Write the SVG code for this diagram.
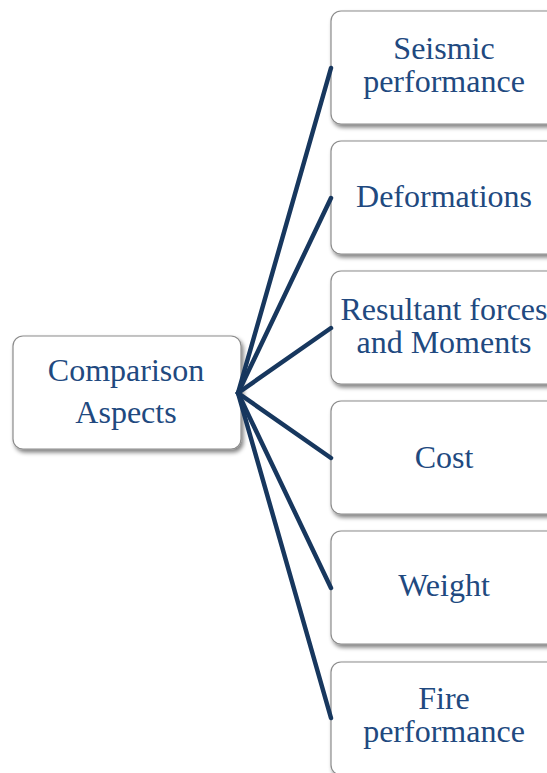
<svg xmlns="http://www.w3.org/2000/svg" width="547" height="773" viewBox="0 0 547 773">
<defs>
<filter id="sh" x="-10%" y="-10%" width="130%" height="130%">
<feGaussianBlur in="SourceAlpha" stdDeviation="2"/>
<feOffset dx="2" dy="3" result="b"/>
<feComponentTransfer><feFuncA type="linear" slope="0.5"/></feComponentTransfer>
<feMerge><feMergeNode/><feMergeNode in="SourceGraphic"/></feMerge>
</filter>
</defs>
<style>
.box{fill:#ffffff;stroke:#8c8c8c;stroke-width:1.2;filter:url(#sh)}
.t{font-size:32px;fill:#21497f;text-anchor:middle}
.c{stroke:#17375e;stroke-width:4.5;fill:none;stroke-linecap:round}
</style>
<rect width="547" height="773" fill="#ffffff"/>
<g font-family="Liberation Serif, Times New Roman, serif">
<g id="root">
<rect class="box" x="13" y="336" width="228" height="113" rx="10"/>
<text class="t" x="126" y="381">Comparison</text>
<text class="t" x="126" y="423">Aspects</text>
</g>
<g id="n1">
<rect class="box" x="331" y="11" width="226" height="113" rx="10"/>
<text class="t" x="444" y="59">Seismic</text>
<text class="t" x="444" y="92">performance</text>
</g>
<g id="n2">
<rect class="box" x="331" y="141" width="226" height="113" rx="10"/>
<text class="t" x="444" y="207">Deformations</text>
</g>
<g id="n3">
<rect class="box" x="331" y="271" width="226" height="113" rx="10"/>
<text class="t" x="444" y="320">Resultant forces</text>
<text class="t" x="444" y="353">and Moments</text>
</g>
<g id="n4">
<rect class="box" x="331" y="401" width="226" height="113" rx="10"/>
<text class="t" x="444" y="468">Cost</text>
</g>
<g id="n5">
<rect class="box" x="331" y="531" width="226" height="113" rx="10"/>
<text class="t" x="444" y="596">Weight</text>
</g>
<g id="n6">
<rect class="box" x="331" y="662" width="226" height="113" rx="10"/>
<text class="t" x="444" y="709">Fire</text>
<text class="t" x="444" y="742">performance</text>
</g>
</g>
<g id="connectors">
<line class="c" x1="238" y1="393" x2="331" y2="68"/>
<line class="c" x1="238" y1="393" x2="331" y2="198"/>
<line class="c" x1="238" y1="393" x2="331" y2="328"/>
<line class="c" x1="238" y1="393" x2="331" y2="458"/>
<line class="c" x1="238" y1="393" x2="331" y2="588"/>
<line class="c" x1="238" y1="393" x2="331" y2="718"/>
</g>
</svg>
